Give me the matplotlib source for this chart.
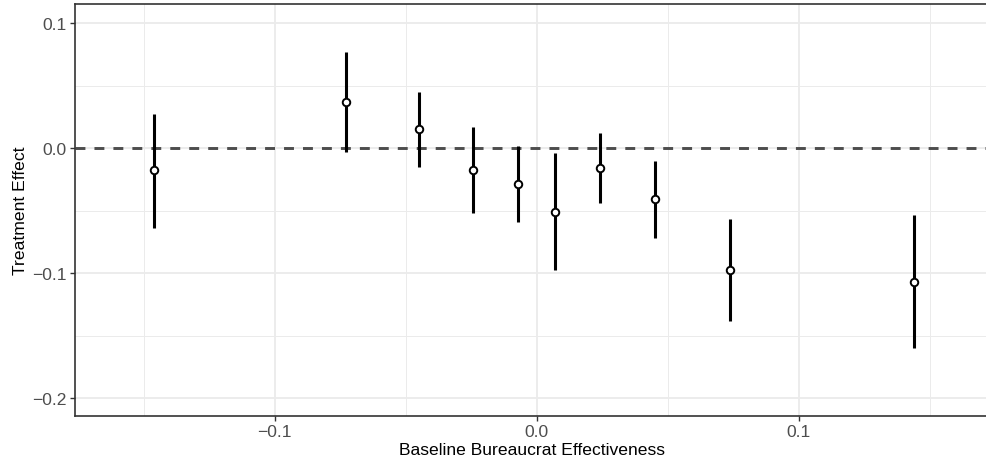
import numpy as np
import matplotlib
matplotlib.use('Agg')
from matplotlib import pyplot as plt
from matplotlib.ticker import MultipleLocator

# Оценки эффекта по бинам базовой эффективности
baseline = [-0.1460, -0.0730, -0.0448, -0.0243, -0.0071, 0.0069, 0.0243, 0.0450, 0.0740, 0.1442]
effect = [-0.0178, 0.0368, 0.0150, -0.0176, -0.0288, -0.0509, -0.0160, -0.0408, -0.0973, -0.1069]
ci_low = [-0.0637, -0.0032, -0.0149, -0.0517, -0.0592, -0.0978, -0.0440, -0.0717, -0.1384, -0.1600]
ci_high = [0.0275, 0.0768, 0.0446, 0.0166, 0.0014, -0.0040, 0.0120, -0.0101, -0.0565, -0.0538]

plt.rcParams['font.family'] = ['Liberation Sans', 'DejaVu Sans']

fig = plt.figure(figsize=(9.87, 4.64), dpi=100)
ax = fig.add_axes([0.076, 0.1013, 0.926, 0.8879])

x = np.array(baseline)
y = np.array(effect)
lo = np.array(ci_low)
hi = np.array(ci_high)

# Нулевая линия
zero = ax.axhline(0, color='#4D4D4D', lw=2.1, zorder=2)
zero.set_dashes((3.4, 3.1))

ax.vlines(x, lo, hi, color='black', lw=2.2, zorder=3)
ax.plot(x, y, 'o', markersize=5.4, markerfacecolor='white', markeredgecolor='black',
        markeredgewidth=1.4, zorder=4)

ax.set_xlim(-0.1763, 0.1727)
ax.set_ylim(-0.2142, 0.1152)

ax.xaxis.set_major_locator(MultipleLocator(0.1))
ax.xaxis.set_minor_locator(MultipleLocator(0.05))
ax.yaxis.set_major_locator(MultipleLocator(0.1))
ax.yaxis.set_minor_locator(MultipleLocator(0.05))
ax.xaxis.set_major_formatter(lambda v, p: '{:.1f}'.format(v).replace('-', '\u2212'))
ax.yaxis.set_major_formatter(lambda v, p: '{:.1f}'.format(v).replace('-', '\u2212'))

ax.grid(which='major', color='#EBEBEB', lw=1.3, zorder=0)
ax.grid(which='minor', color='#EBEBEB', lw=0.7, zorder=0)
ax.set_axisbelow(True)

for s in ax.spines.values():
    s.set_color('#333333')
    s.set_linewidth(1.2)
# правая граница панели за краем картинки
ax.spines['right'].set_visible(False)

ax.tick_params(which='major', length=3.5, width=1.0, color='#333333',
               labelcolor='#4D4D4D', labelsize=12.6, pad=2.5)
ax.tick_params(which='minor', length=0)

ax.set_xlabel('Baseline Bureaucrat Effectiveness', fontsize=12.6, labelpad=2)
ax.set_ylabel('Treatment Effect', fontsize=12.6, labelpad=3)

plt.savefig('out.png', dpi=100)
